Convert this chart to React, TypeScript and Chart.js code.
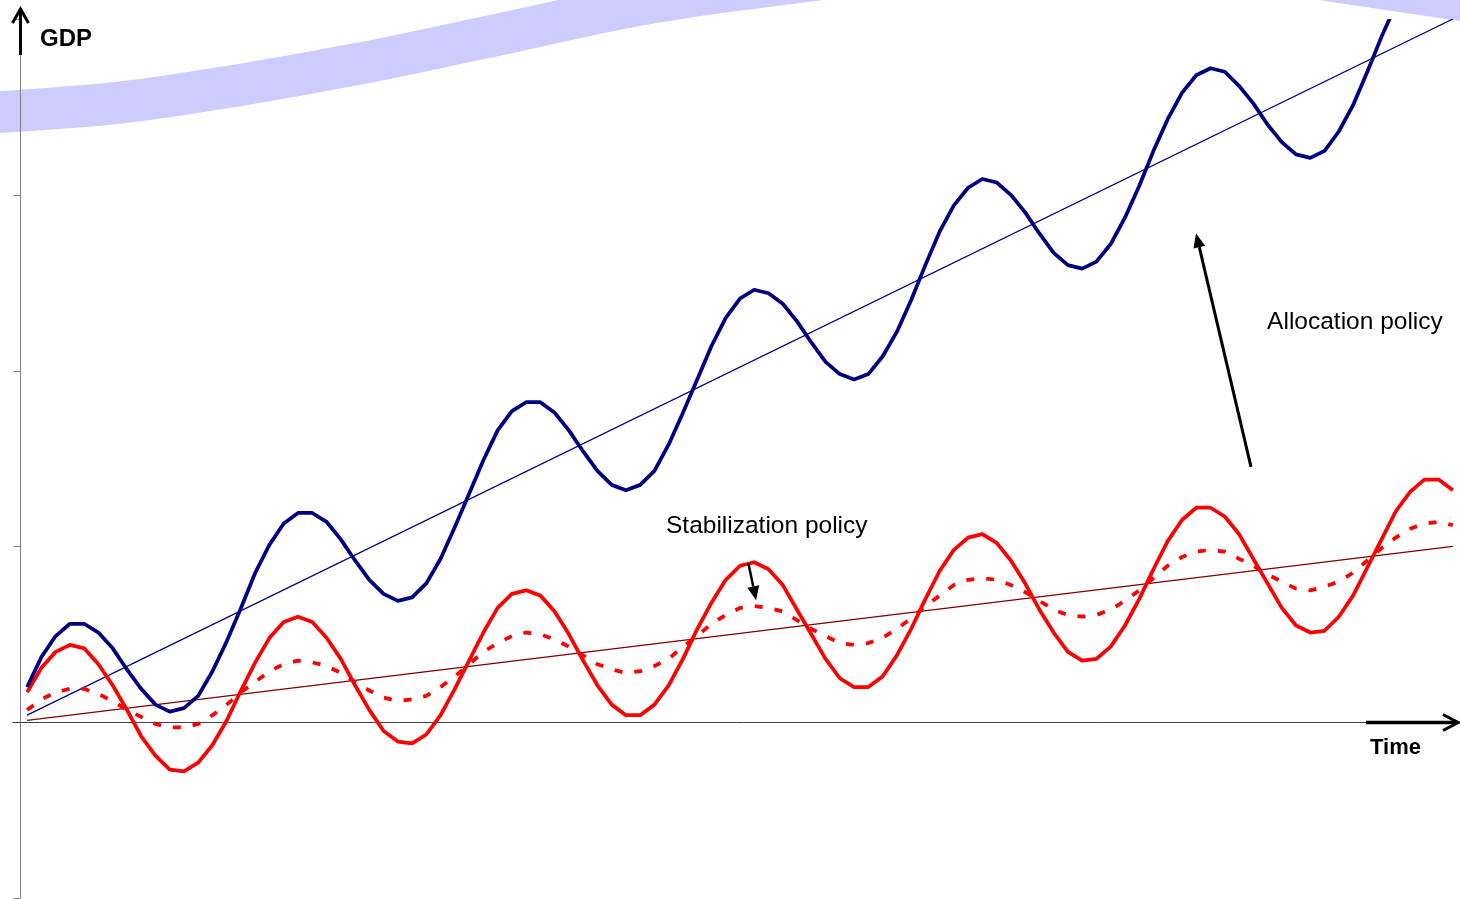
import React, { useEffect, useRef } from "react";
import { Chart, registerables } from "chart.js";

Chart.register(...registerables);

// ---- data (x = period index 0..100) ----
const periods: number[] = Array.from({ length: 101 }, (_, i) => i);

// actual GDP with allocation policy (thick navy wave)
const gdpAllocation = [
  0.20, 0.37, 0.49, 0.56, 0.56, 0.51, 0.42, 0.30, 0.19, 0.10,
  0.06, 0.08, 0.15, 0.29, 0.46, 0.65, 0.85, 1.01, 1.13, 1.19,
  1.19, 1.14, 1.04, 0.92, 0.81, 0.73, 0.69, 0.71, 0.79, 0.93,
  1.11, 1.30, 1.49, 1.66, 1.77, 1.82, 1.82, 1.76, 1.66, 1.54,
  1.43, 1.35, 1.32, 1.35, 1.43, 1.58, 1.76, 1.95, 2.14, 2.30,
  2.41, 2.46, 2.44, 2.38, 2.28, 2.16, 2.05, 1.98, 1.95, 1.98,
  2.08, 2.22, 2.40, 2.60, 2.79, 2.94, 3.04, 3.09, 3.07, 3.00,
  2.90, 2.78, 2.67, 2.60, 2.58, 2.62, 2.72, 2.87, 3.05, 3.25,
  3.43, 3.58, 3.68, 3.72, 3.70, 3.62, 3.52, 3.40, 3.30, 3.23,
  3.21, 3.25, 3.36, 3.51, 3.70, 3.90, 4.08, 4.22, 4.32, 4.35,
  4.32,
];

// actual GDP without policy (thick red wave)
const gdpActual = [
  0.17, 0.31, 0.40, 0.44, 0.42, 0.33, 0.21, 0.07, -0.08, -0.19,
  -0.27, -0.28, -0.23, -0.13, 0.01, 0.18, 0.34, 0.48, 0.57, 0.60,
  0.57, 0.48, 0.36, 0.21, 0.07, -0.05, -0.11, -0.12, -0.07, 0.04,
  0.19, 0.35, 0.51, 0.65, 0.73, 0.75, 0.72, 0.63, 0.50, 0.35,
  0.21, 0.10, 0.04, 0.04, 0.10, 0.21, 0.36, 0.53, 0.68, 0.81,
  0.89, 0.91, 0.87, 0.78, 0.64, 0.50, 0.36, 0.25, 0.20, 0.20,
  0.26, 0.38, 0.53, 0.70, 0.86, 0.98, 1.05, 1.07, 1.02, 0.92,
  0.79, 0.64, 0.51, 0.40, 0.35, 0.36, 0.43, 0.55, 0.70, 0.87,
  1.03, 1.15, 1.22, 1.22, 1.17, 1.07, 0.93, 0.79, 0.65, 0.55,
  0.51, 0.52, 0.60, 0.72, 0.88, 1.04, 1.20, 1.31, 1.38, 1.38,
  1.32,
];

// GDP with stabilization policy (dashed red wave)
const gdpStabilized = [
  0.07, 0.13, 0.17, 0.19, 0.19, 0.16, 0.12, 0.07, 0.03, -0.01,
  -0.03, -0.03, -0.01, 0.04, 0.10, 0.17, 0.23, 0.29, 0.33, 0.35,
  0.34, 0.32, 0.28, 0.23, 0.18, 0.14, 0.12, 0.13, 0.15, 0.20,
  0.26, 0.33, 0.40, 0.45, 0.49, 0.51, 0.50, 0.47, 0.43, 0.38,
  0.33, 0.30, 0.28, 0.29, 0.32, 0.36, 0.43, 0.49, 0.56, 0.61,
  0.65, 0.66, 0.65, 0.63, 0.58, 0.53, 0.49, 0.45, 0.44, 0.45,
  0.48, 0.53, 0.59, 0.66, 0.72, 0.78, 0.81, 0.82, 0.81, 0.78,
  0.74, 0.69, 0.64, 0.61, 0.60, 0.61, 0.64, 0.69, 0.75, 0.82,
  0.89, 0.94, 0.97, 0.98, 0.97, 0.93, 0.89, 0.84, 0.80, 0.76,
  0.75, 0.77, 0.80, 0.85, 0.92, 0.99, 1.05, 1.10, 1.13, 1.14,
  1.12,
];

// trend (potential) lines: start / end period
const trendPeriods = [0, 100];
const trendAllocation = [0.04, 4.0];
const trendBase = [0.01, 1.0];

// pale blue band across the top (centre line)
const bandPeriods = [-2.75, 6.51, 14.93, 23.35, 31.76, 43.97, 55.82, 73.71, 90.54, 103.31];
const bandValues = [3.465, 3.524, 3.625, 3.747, 3.889, 4.096, 4.229, 4.431, 4.229, 4.076];

const yTicks = [-1, 0, 1, 2, 3, 4];

const arrowNotes = [
  { fromX: 85.84, fromY: 1.452, toX: 81.99, toY: 2.78, width: 3 },
  { fromX: 50.59, fromY: 0.903, toX: 51.13, toY: 0.694, width: 2.5 },
];
const textNotes = [
  { text: "Allocation policy", x: 86.97, y: 2.236 },
  { text: "Stabilization policy", x: 44.81, y: 1.075 },
];

const FONT = '"Liberation Sans", Arial, sans-serif';

const pts = (xs: number[], ys: number[]) => ys.map((y, i) => ({ x: xs[i], y }));

const BAND_INDEX = 5;

function drawAxes(chart: any) {
  const { ctx, chartArea, scales } = chart;
  const ys = scales.y;
  const left = Math.round(chartArea.left) + 0.5;
  const y0 = Math.round(ys.getPixelForValue(0)) + 0.5;
  ctx.save();
  // y axis line
  ctx.strokeStyle = "#7f7f7f";
  ctx.lineWidth = 1;
  ctx.beginPath();
  ctx.moveTo(left, chartArea.bottom);
  ctx.lineTo(left, chartArea.top);
  ctx.stroke();
  // ticks
  for (const t of yTicks) {
    const py = Math.round(ys.getPixelForValue(t)) + 0.5;
    ctx.beginPath();
    ctx.moveTo(left - 7, py);
    ctx.lineTo(left, py);
    ctx.stroke();
  }
  // x axis line
  ctx.strokeStyle = "#404040";
  ctx.beginPath();
  ctx.moveTo(left - 8, y0);
  ctx.lineTo(chartArea.right, y0);
  ctx.stroke();

  // y arrow
  ctx.strokeStyle = "#000";
  ctx.lineWidth = 3;
  ctx.lineCap = "butt";
  ctx.lineJoin = "miter";
  const ax = left;
  const tipY = chartArea.top - 11;
  ctx.beginPath();
  ctx.moveTo(ax, chartArea.top + 36);
  ctx.lineTo(ax, tipY + 1);
  ctx.stroke();
  ctx.beginPath();
  ctx.moveTo(ax - 8, tipY + 15);
  ctx.lineTo(ax, tipY + 1);
  ctx.lineTo(ax + 8, tipY + 15);
  ctx.stroke();

  // x arrow
  const tipX = chartArea.right - 2;
  ctx.lineWidth = 3.5;
  ctx.beginPath();
  ctx.moveTo(chartArea.right - 94, y0);
  ctx.lineTo(tipX - 1, y0);
  ctx.stroke();
  ctx.lineWidth = 3;
  ctx.beginPath();
  ctx.moveTo(tipX - 15, y0 - 8);
  ctx.lineTo(tipX, y0);
  ctx.lineTo(tipX - 15, y0 + 8);
  ctx.stroke();

  // axis titles
  ctx.fillStyle = "#000";
  ctx.textBaseline = "alphabetic";
  ctx.textAlign = "left";
  ctx.font = `bold 24px ${FONT}`;
  ctx.fillText("GDP", chartArea.left + 20, chartArea.top + 27);
  ctx.font = `bold 22px ${FONT}`;
  ctx.fillText("Time", chartArea.right - 90, y0 + 31);
  ctx.restore();
}

function drawNotes(chart: any) {
  const { ctx, scales } = chart;
  const xs = scales.x;
  const ys = scales.y;
  ctx.save();
  ctx.fillStyle = "#000";
  ctx.strokeStyle = "#000";
  for (const a of arrowNotes) {
    const x1 = xs.getPixelForValue(a.fromX);
    const y1 = ys.getPixelForValue(a.fromY);
    const x2 = xs.getPixelForValue(a.toX);
    const y2 = ys.getPixelForValue(a.toY);
    const ang = Math.atan2(y2 - y1, x2 - x1);
    const headLen = 14;
    const headHalf = 6;
    const bx = x2 - headLen * Math.cos(ang);
    const by = y2 - headLen * Math.sin(ang);
    ctx.lineWidth = a.width;
    ctx.beginPath();
    ctx.moveTo(x1, y1);
    ctx.lineTo(bx, by);
    ctx.stroke();
    ctx.beginPath();
    ctx.moveTo(x2, y2);
    ctx.lineTo(bx + headHalf * Math.sin(ang), by - headHalf * Math.cos(ang));
    ctx.lineTo(bx - headHalf * Math.sin(ang), by + headHalf * Math.cos(ang));
    ctx.closePath();
    ctx.fill();
  }
  ctx.font = `24.5px ${FONT}`;
  ctx.textAlign = "left";
  ctx.textBaseline = "alphabetic";
  for (const t of textNotes) {
    ctx.fillText(t.text, xs.getPixelForValue(t.x), ys.getPixelForValue(t.y));
  }
  ctx.restore();
}

const overlayPlugin = {
  id: "overlay",
  afterDatasetDraw(chart: any, args: any) {
    if (args.index === BAND_INDEX) drawAxes(chart);
  },
  afterDatasetsDraw(chart: any) {
    drawNotes(chart);
  },
};

export default function App() {
  const ref = useRef<HTMLCanvasElement>(null);

  useEffect(() => {
    const canvas = ref.current;
    if (!canvas) return;
    const line = {
      pointRadius: 0,
      pointHoverRadius: 0,
      tension: 0,
      fill: false,
      borderJoinStyle: "round" as const,
    };
    const chart = new Chart(canvas, {
      type: "line",
      data: {
        datasets: [
          {
            ...line,
            label: "GDP with allocation policy",
            data: pts(periods, gdpAllocation),
            borderColor: "#000080",
            borderWidth: 3.75,
          },
          {
            ...line,
            label: "GDP",
            data: pts(periods, gdpActual),
            borderColor: "#ff0000",
            borderWidth: 3.75,
          },
          {
            ...line,
            label: "GDP with stabilization policy",
            data: pts(periods, gdpStabilized),
            borderColor: "#ff0000",
            borderWidth: 3.75,
            borderDash: [8, 12],
            borderCapStyle: "butt",
          },
          {
            ...line,
            label: "Trend with allocation policy",
            data: pts(trendPeriods, trendAllocation),
            borderColor: "#000080",
            borderWidth: 1.25,
          },
          {
            ...line,
            label: "Trend",
            data: pts(trendPeriods, trendBase),
            borderColor: "#800000",
            borderWidth: 1.25,
          },
          {
            ...line,
            label: "band",
            data: pts(bandPeriods, bandValues),
            borderColor: "#ccccff",
            borderWidth: 42,
            borderCapStyle: "butt",
            tension: 0.35,
            clip: false as any,
          },
        ],
      },
      options: {
        animation: false,
        responsive: false,
        devicePixelRatio: 1,
        events: [],
        layout: { padding: { left: 20, right: 0, top: 19, bottom: 1 } },
        plugins: {
          legend: { display: false },
          tooltip: { enabled: false },
          title: { display: false },
        },
        scales: {
          x: { type: "linear", min: -0.5, max: 100.5, display: false },
          y: { type: "linear", min: -1, max: 4, display: false },
        },
      },
      plugins: [overlayPlugin],
    });
    return () => chart.destroy();
  }, []);

  return (
    <div
      style={{
        position: "fixed",
        left: 0,
        top: 0,
        width: 1460,
        height: 899,
        background: "#ffffff",
      }}
    >
      <canvas
        ref={ref}
        width={1460}
        height={899}
        style={{ display: "block", width: 1460, height: 899 }}
      />
    </div>
  );
}
